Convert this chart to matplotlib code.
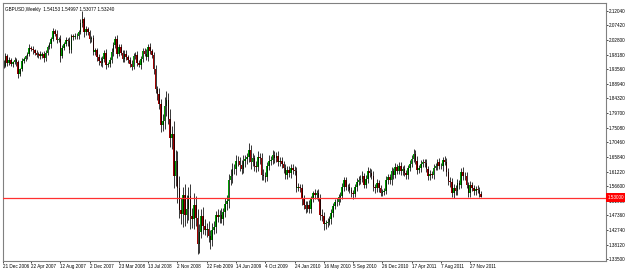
import numpy as np
import matplotlib
matplotlib.use("Agg")
import matplotlib.pyplot as plt

plt.rcParams['font.family'] = ['Liberation Sans', 'DejaVu Sans']

# weekly closes, GBPUSD, one list per year (first week = 7 Jan 2007)
close_2007 = [1.9460, 1.9780, 1.9540, 1.9650, 1.9520, 1.9580, 1.9640, 1.9580,
              1.9220, 1.9350, 1.9620, 1.9680, 1.9760, 1.9830, 2.0040, 2.0010, 1.9950,
              1.9870, 1.9800, 1.9840, 1.9760, 1.9830, 1.9700, 1.9880, 2.0070,
              2.0140, 2.0320, 2.0550, 2.0480, 2.0290, 2.0310, 1.9770, 2.0040, 2.0150,
              2.0280, 2.0250, 1.9950, 2.0400, 2.0380, 2.0410, 2.0400, 2.0540, 2.0810,
              2.0940, 2.0520, 2.0620, 2.0520, 2.0310, 2.0330, 1.9890, 1.9950, 1.9740]
close_2008 = [1.9610, 1.9540, 1.9680, 1.9870, 1.9500, 1.9520, 1.9650, 1.9890,
              2.0120, 2.0300, 1.9850, 2.0050, 1.9880, 1.9690, 1.9850, 1.9730, 1.9660,
              1.9530, 1.9440, 1.9780, 1.9810, 1.9560, 1.9490, 1.9680, 1.9920, 1.9850,
              1.9730, 2.0070, 1.9920, 1.9810, 1.9360, 1.8720, 1.8580, 1.8250, 1.7580,
              1.7720, 1.8180, 1.8390, 1.7770, 1.7170, 1.7310, 1.5990, 1.6460,
              1.5590, 1.4920, 1.4780, 1.5370, 1.4760, 1.4930, 1.5350, 1.4720, 1.4620]
close_2009 = [1.5080, 1.4640, 1.3830, 1.4220, 1.4720, 1.4410, 1.4290, 1.4310,
              1.4090, 1.3950, 1.4290, 1.4380, 1.4740, 1.4680, 1.4750, 1.4630, 1.4830,
              1.5100, 1.5180, 1.5870, 1.5970, 1.6200, 1.6190, 1.6450, 1.6460, 1.6340,
              1.6190, 1.6460, 1.6510, 1.6590, 1.6810, 1.6410, 1.6540, 1.6300, 1.6260,
              1.6580, 1.6540, 1.6000, 1.5980, 1.5950, 1.6300, 1.6470, 1.6480,
              1.6660, 1.6560, 1.6610, 1.6430, 1.6460, 1.6350, 1.6240, 1.6010, 1.6170]
close_2010 = [1.6080, 1.6250, 1.6160, 1.6150, 1.5610, 1.5640, 1.5600, 1.5240, 1.5080,
              1.4950, 1.5060, 1.4940, 1.5240, 1.5430, 1.5380, 1.5450, 1.5280,
              1.4750, 1.4710, 1.4470, 1.4490, 1.4530, 1.4610, 1.4810, 1.5040, 1.5150,
              1.5150, 1.5310, 1.5350, 1.5640, 1.5850, 1.5640, 1.5620, 1.5530, 1.5440,
              1.5410, 1.5620, 1.5780, 1.5870, 1.5890, 1.5990, 1.5710, 1.5900, 1.6150,
              1.6080, 1.5990, 1.5630, 1.5590, 1.5770, 1.5590, 1.5450, 1.5490]
close_2011 = [1.5500, 1.5850, 1.5950, 1.5840, 1.6130, 1.6010, 1.6260, 1.6150, 1.6300,
              1.6130, 1.6200, 1.6070, 1.6000, 1.6250, 1.6360, 1.6530, 1.6690,
              1.6470, 1.6180, 1.6230, 1.6360, 1.6420, 1.6400, 1.6210, 1.5980, 1.6060,
              1.6010, 1.6250, 1.6290, 1.6410, 1.6310, 1.6290, 1.6480, 1.6430, 1.6120,
              1.5830, 1.5780, 1.5430, 1.5600, 1.5500, 1.5760, 1.5710, 1.6110, 1.5990,
              1.5990, 1.5700, 1.5430, 1.5700, 1.5600, 1.5500, 1.5570, 1.5530]
close_2012 = [1.5415, 1.5324]
first_open = 1.9580

# wick lengths above / below the body, in thousandths
up_2007 = [6, 9, 5, 8, 7, 5, 10, 6, 8, 4, 9, 7, 6, 8, 11, 5, 7, 6, 9, 5, 8, 6, 10, 7, 5, 9,
           6, 12, 8, 10, 7, 14, 9, 6, 8, 5, 11, 7, 6, 9, 8, 5, 13, 24, 8, 10, 7, 9, 6, 11, 8, 7]
dn_2007 = [8, 5, 9, 6, 7, 10, 5, 12, 14, 8, 6, 7, 5, 9, 6, 8, 10, 7, 6, 8, 9, 5, 11, 7, 6, 8,
           10, 7, 9, 12, 8, 18, 7, 9, 6, 15, 8, 7, 10, 6, 9, 8, 7, 11, 14, 9, 8, 12, 10, 7, 9, 11]
up_2008 = [9, 12, 8, 10, 11, 7, 9, 13, 10, 12, 15, 9, 11, 8, 10, 12, 9, 7, 11, 8, 10, 13, 9, 8,
           11, 10, 14, 9, 12, 8, 10, 14, 12, 18, 16, 22, 30, 28, 20, 32, 26, 42, 35, 30, 40, 38,
           28, 35, 45, 30, 38, 25]
dn_2008 = [12, 8, 10, 9, 14, 7, 11, 9, 12, 10, 13, 8, 9, 11, 10, 7, 12, 9, 10, 8, 11, 9, 7, 12,
           10, 9, 8, 11, 7, 10, 15, 12, 20, 14, 22, 18, 25, 30, 16, 28, 35, 40, 32, 45, 28, 30,
           42, 36, 25, 33, 40, 28]
up_2009 = [35, 28, 30, 25, 22, 28, 20, 18, 24, 20, 22, 18, 15, 20, 16, 22, 14, 18, 20, 16, 24,
           18, 15, 20, 14, 12, 16, 18, 15, 13, 20, 14, 16, 12, 15, 18, 13, 16, 20, 12, 14, 16,
           13, 15, 12, 14, 16, 12, 13, 10, 12, 14]
dn_2009 = [30, 25, 32, 28, 20, 25, 18, 22, 20, 26, 18, 15, 20, 16, 18, 14, 20, 15, 18, 22, 16,
           20, 14, 18, 15, 20, 16, 12, 18, 14, 15, 20, 12, 16, 14, 12, 18, 15, 13, 16, 12, 14,
           15, 11, 16, 13, 12, 14, 10, 15, 12, 13]
up_2010 = [14, 10, 12, 15, 11, 13, 9, 12, 14, 10, 12, 15, 11, 9, 13, 10, 12, 14, 18, 15, 11, 13,
           10, 12, 9, 11, 14, 10, 12, 13, 9, 11, 10, 14, 12, 9, 11, 13, 10, 12, 15, 9, 11, 13,
           10, 12, 14, 9, 11, 10, 12, 9]
dn_2010 = [12, 15, 10, 13, 14, 11, 12, 16, 13, 15, 10, 12, 14, 9, 11, 13, 10, 16, 14, 20, 15,
           12, 10, 13, 11, 9, 12, 10, 14, 11, 13, 10, 12, 9, 11, 14, 10, 12, 9, 13, 11, 12, 10,
           14, 12, 9, 11, 13, 10, 12, 11, 10]
up_2011 = [10, 12, 9, 11, 13, 10, 12, 9, 11, 14, 10, 12, 11, 9, 12, 10, 13, 11, 14, 10, 12, 9,
           11, 13, 10, 12, 9, 11, 10, 12, 13, 9, 11, 14, 12, 10, 13, 15, 12, 11, 14, 10, 12, 16,
           11, 13, 10, 12, 9, 11, 10, 12]
dn_2011 = [11, 9, 12, 10, 13, 11, 9, 12, 10, 11, 13, 9, 12, 10, 11, 9, 12, 10, 14, 11, 12, 10,
           13, 9, 11, 12, 10, 11, 9, 13, 12, 10, 14, 11, 13, 12, 15, 11, 13, 12, 11, 14, 10, 12,
           13, 11, 10, 12, 9, 11, 12, 10]
up_2012 = [10, 8]
dn_2012 = [9, 2]

price_ticks = [1.3350, 1.3812, 1.4274, 1.4736, 1.5198, 1.5660, 1.6122, 1.6584, 1.7046,
               1.7508, 1.7970, 1.8432, 1.8894, 1.9356, 1.9818, 2.0280, 2.0742, 2.1204]
date_ticks = [-0.5, 15, 31, 47, 63, 79, 95, 111, 127, 143, 159, 175, 191, 207, 223, 239, 255]
date_labels = ["21 Dec 2006", "22 Apr 2007", "12 Aug 2007", "2 Dec 2007", "23 Mar 2008",
               "13 Jul 2008", "2 Nov 2008", "22 Feb 2009", "14 Jun 2009", "4 Oct 2009",
               "24 Jan 2010", "16 May 2010", "5 Sep 2010", "26 Dec 2010", "17 Apr 2011",
               "7 Aug 2011", "27 Nov 2011"]
level = 1.5300
title = "GBPUSD,Weekly  1.54153 1.54997 1.53077 1.53240"

close = np.array(close_2007 + close_2008 + close_2009 + close_2010 + close_2011 + close_2012)
up = np.array(up_2007 + up_2008 + up_2009 + up_2010 + up_2011 + up_2012) / 1000
dn = np.array(dn_2007 + dn_2008 + dn_2009 + dn_2010 + dn_2011 + dn_2012) / 1000
opn = np.r_[first_open, close[:-1]]
high = np.maximum(opn, close) + up
low = np.minimum(opn, close) - dn
x = np.arange(len(close))
bull = close >= opn

fig = plt.figure(figsize=(6.25, 2.7), dpi=100)
ax = fig.add_axes([2.7 / 625, 1 - 260.7 / 270, 603 / 625, 258 / 270])
ax.set_xlim(-0.5, 329)
ax.set_ylim(1.3306, 2.1457)

ax.bar(x[bull], (close - opn)[bull], bottom=opn[bull], width=0.85, color='#00a000', lw=0, zorder=2)
ax.bar(x[~bull], (close - opn)[~bull], bottom=opn[~bull], width=0.85, color='#a00000', lw=0, zorder=2)
ax.vlines(x, low, high, color='black', lw=0.55, zorder=3)

ax.axhline(level, color='#ff3030', lw=0.9, zorder=4)
ax.text(1.003, level, f"{level:.5f}", transform=ax.get_yaxis_transform(), fontsize=3.3,
        color='white', va='center', ha='left', zorder=6, clip_on=False,
        bbox=dict(boxstyle='square,pad=0.35', fc='#ff0000', ec='none'))

ax.text(0.003, 0.985, title, transform=ax.transAxes, fontsize=3.3, va='top', ha='left')

ax.yaxis.tick_right()
ax.set_yticks(price_ticks)
ax.set_yticklabels([f"{v:.5f}" for v in price_ticks])
ax.set_xticks(date_ticks)
ax.set_xticklabels(date_labels, ha='left')
ax.tick_params(axis='both', labelsize=3.3, length=1.5, width=0.5, pad=1, colors='black')

for s in ax.spines.values():
    s.set_color('#808080')
    s.set_linewidth(0.8)

fig.savefig("out.png", dpi=100, facecolor='white')
